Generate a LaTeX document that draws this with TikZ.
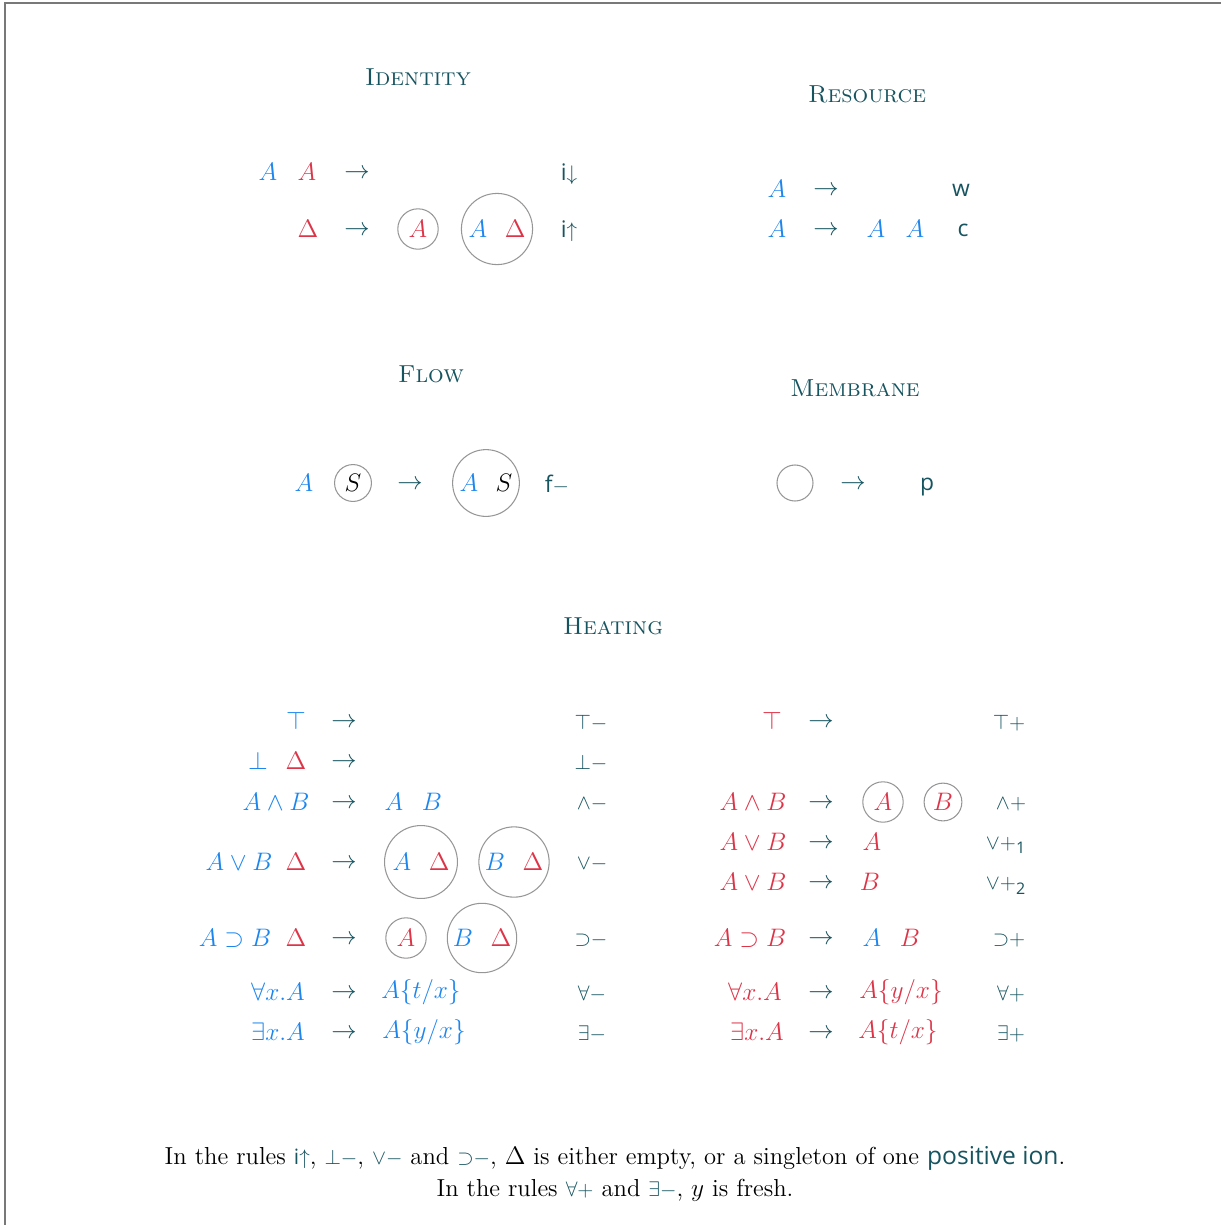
\documentclass[tikz,border=0pt]{standalone}
\usepackage{fontspec}
\setsansfont{Open Sans}
\usepackage{tikz}
\usetikzlibrary{positioning}
\definecolor{negblue}{RGB}{28,134,238}
\definecolor{posred}{RGB}{221,52,72}
\definecolor{ruleteal}{RGB}{22,84,96}
\definecolor{memgray}{RGB}{150,150,150}
\definecolor{framegray}{RGB}{120,120,120}
\newcommand{\nfm}[1]{\textcolor{negblue}{$#1$}}
\newcommand{\pfm}[1]{\textcolor{posred}{$#1$}}
\newcommand{\rn}[1]{\textcolor{ruleteal}{\sffamily\fontsize{12}{14}\selectfont #1}}

\begin{document}
\begin{tikzpicture}[x=0.02cm, y=-0.02cm,
  every node/.style={font=\fontsize{14}{17}\selectfont, inner sep=0pt},
  hd/.style={text=ruleteal, font=\fontsize{14}{17}\selectfont\scshape},
  ng/.style={text=negblue},
  ps/.style={text=posred},
  ar/.style={text=ruleteal, yshift=-1.2pt},
  lb/.style={text=ruleteal, font=\fontsize{13}{15}\selectfont\sffamily, yshift=-1pt},
  mb/.style={circle, draw=memgray, line width=0.6pt, inner sep=0pt, minimum size=23pt},
  bigmb/.style={mb, minimum size=40.5pt}]
  \useasboundingbox (0,0) rectangle (1221,1225);
  \draw[framegray, line width=1pt] (5,1225) -- (5,3) -- (1221,3);

  % identity
  \node[hd] (idT) at (418,77) {Identity};
  \node[ng] (idA1) at (268,172) {$A$};
  \node[ps] (idA2) at (307,172) {$A$};
  \node[ar] (idR1) at (357,172) {$\to$};
  \node[lb] (idL1) at (569,172) {i$\downarrow$};
  \node[ps] (idD) at (308,229) {$\Delta$};
  \node[ar] (idR2) at (357,229) {$\to$};
  \node[mb, text=posred] (idC1) at (418,229) {$A$};
  \node[bigmb] (idC2) at (497,229) {\nfm{A}\hspace{10pt}\pfm{\Delta}};
  \node[lb] (idL2) at (569,229) {i$\uparrow$};

  % resource
  \node[hd] (reT) at (867,94) {Resource};
  \node[ng] (reA1) at (777,189) {$A$};
  \node[ar] (reR1) at (826,189) {$\to$};
  \node[lb] (reL1) at (961,189) {w};
  \node[ng] (reA2) at (777,229) {$A$};
  \node[ar] (reR2) at (826,229) {$\to$};
  \node[ng] (reA3) at (876,229) {$A$};
  \node[ng] (reA4) at (915,229) {$A$};
  \node[lb] (reL2) at (963,229) {c};

  % flow
  \node[hd] (flT) at (431,374) {Flow};
  \node[ng] (flA) at (304,483) {$A$};
  \node[mb, minimum size=21pt] (flC1) at (353,483) {$S$};
  \node[ar] (flR) at (410,483) {$\to$};
  \node[bigmb, minimum size=38pt] (flC2) at (486,483) {\nfm{A}\hspace{10pt}$S$};
  \node[lb] (flL) at (557,483) {f$-$};

  % membrane
  \node[hd] (meT) at (855,388) {Membrane};
  \node[mb, minimum size=20.5pt] (meC) at (795,483) {};
  \node[ar] (meR) at (853,483) {$\to$};
  \node[lb] (meL) at (927,485) {p};

  % heating
  \node[hd] (heT) at (613,626) {Heating};
  \foreach \y [count=\i] in {721,761,802,862,938,992,1032}
    \node[ar] (hlR\i) at (344,\y) {$\to$};
  \foreach \y [count=\i] in {721,802,842,882,938,992,1032}
    \node[ar] (hrR\i) at (821,\y) {$\to$};

  \node[ng] (hlTop) at (296,721) {$\top$};
  \node[lb] (hlL1) at (591,721) {$\top-$};
  \node[ng] (hlBot) at (258,761) {$\bot$};
  \node[ps] (hlD2) at (296,761) {$\Delta$};
  \node[lb] (hlL2) at (591,761) {$\bot-$};
  \node[ng] (hlAnd) at (276,802) {$A\wedge B$};
  \node[ng] (hlA3) at (394,802) {$A$};
  \node[ng] (hlB3) at (432,802) {$B$};
  \node[lb] (hlL3) at (592,802) {$\wedge-$};
  \node[ng] (hlOr) at (239,862) {$A\vee B$};
  \node[ps] (hlD4) at (296,862) {$\Delta$};
  \node[bigmb, minimum size=41.5pt] (hlC4a) at (421,862) {\nfm{A}\hspace{10pt}\pfm{\Delta}};
  \node[bigmb, minimum size=40pt] (hlC4b) at (514,862) {\nfm{B}\hspace{10pt}\pfm{\Delta}};
  \node[lb] (hlL4) at (592,862) {$\vee-$};
  \node[ng] (hlImp) at (235,938) {$A\supset B$};
  \node[ps] (hlD5) at (296,938) {$\Delta$};
  \node[mb, text=posred] (hlC5a) at (406,938) {$A$};
  \node[bigmb, minimum size=39.5pt] (hlC5b) at (482,938) {\nfm{B}\hspace{10pt}\pfm{\Delta}};
  \node[lb] (hlL5) at (591,938) {${\supset}{-}$};
  \node[ng] (hlAll) at (278,992) {$\forall x.A$};
  \node[ng] (hlS6) at (421,992) {$A\{t/x\}$};
  \node[lb] (hlL6) at (592,992) {$\forall-$};
  \node[ng] (hlEx) at (278,1032) {$\exists x.A$};
  \node[ng] (hlS7) at (424,1032) {$A\{y/x\}$};
  \node[lb] (hlL7) at (592,1032) {$\exists-$};

  \node[ps] (hrTop) at (772,721) {$\top$};
  \node[lb] (hrL1) at (1009,721) {$\top{+}$};
  \node[ps] (hrAnd) at (753,802) {$A\wedge B$};
  \node[mb, text=posred] (hrC2a) at (883,802) {$A$};
  \node[mb, text=posred, minimum size=21.5pt] (hrC2b) at (943,802) {$B$};
  \node[lb] (hrL2) at (1011,802) {$\wedge{+}$};
  \node[ps] (hrOr1) at (753,842) {$A\vee B$};
  \node[ps] (hrA3) at (872,842) {$A$};
  \node[lb] (hrL3) at (1006,844) {$\vee{+}$\textsubscript{1}};
  \node[ps] (hrOr2) at (753,882) {$A\vee B$};
  \node[ps] (hrB4) at (870,882) {$B$};
  \node[lb] (hrL4) at (1006,884) {$\vee{+}$\textsubscript{2}};
  \node[ps] (hrImp) at (750,938) {$A\supset B$};
  \node[ng] (hrA5) at (872,938) {$A$};
  \node[ps] (hrB5) at (910,938) {$B$};
  \node[lb] (hrL5) at (1009,938) {${\supset}{+}$};
  \node[ps] (hrAll) at (755,992) {$\forall x.A$};
  \node[ps] (hrS6) at (901,992) {$A\{y/x\}$};
  \node[lb] (hrL6) at (1011,992) {$\forall{+}$};
  \node[ps] (hrEx) at (757,1032) {$\exists x.A$};
  \node[ps] (hrS7) at (898,1032) {$A\{t/x\}$};
  \node[lb] (hrL7) at (1011,1032) {$\exists{+}$};

  \node[align=center, font=\fontsize{14}{18}\selectfont] (note) at (615,1174)
    {In the rules \rn{i$\uparrow$}, \rn{$\bot-$}, \rn{$\vee-$} and \rn{${\supset}{-}$}, $\Delta$ is either empty, or a singleton of one \textcolor{ruleteal}{\sffamily positive ion}.\\
     In the rules \rn{$\forall{+}$} and \rn{$\exists-$}, $y$ is fresh.};
\end{tikzpicture}
\end{document}
